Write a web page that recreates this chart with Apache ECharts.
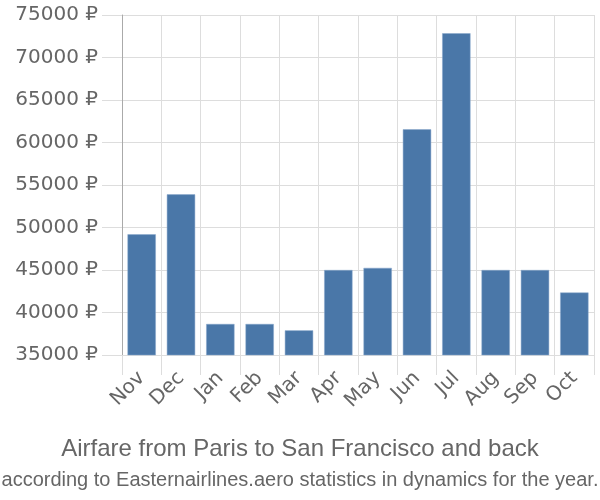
<!DOCTYPE html>
<html><head><meta charset="utf-8">
<script src="https://cdn.jsdelivr.net/npm/echarts@6/dist/echarts.min.js"></script>
<style>html,body{margin:0;padding:0;background:#fff}#c{width:600px;height:500px}</style>
</head><body><div id="c"></div>
<script>
const months = ['Nov','Dec','Jan','Feb','Mar','Apr','May','Jun','Jul','Aug','Sep','Oct'];
const prices = [49200, 53900, 38650, 38650, 37900, 45000, 45250, 61550, 72850, 45000, 45000, 42350];
const yMin = 35000, yMax = 75000, yStep = 5000;
const titleText = 'Airfare from Paris to San Francisco and back';
const subText = 'according to Easternairlines.aero statistics in dynamics for the year.';

const chart = echarts.init(document.getElementById('c'), null, {renderer:'canvas'});
const font = '"Liberation Sans", Arial, sans-serif';
const axisFont = '"DejaVu Sans", sans-serif';
chart.setOption({
  animation:false,
  title:[
    {text:titleText, left:'center', top:432, textStyle:{fontFamily:font, fontSize:24, fontWeight:'normal', color:'#666'}},
    {text:subText, left:'center', top:465, textStyle:{fontFamily:font, fontSize:20, fontWeight:'normal', color:'#666'}}
  ],
  grid:{left:122, right:6, top:15, bottom:145, containLabel:false},
  xAxis:{
    type:'category', data:months,
    axisLine:{show:true, lineStyle:{color:'#ddd', width:1}},
    axisTick:{show:true, length:20, lineStyle:{color:'#ddd'}},
    splitLine:{show:true, lineStyle:{color:'#ddd', width:1}},
    axisLabel:{rotate:45, fontFamily:axisFont, fontSize:20, color:'#666', margin:20, interval:0}
  },
  yAxis:{
    type:'value', min:yMin, max:yMax, interval:yStep,
    axisLine:{show:true, lineStyle:{color:'#aaa', width:1}},
    axisTick:{show:true, length:20, lineStyle:{color:'#ddd'}},
    splitLine:{show:true, lineStyle:{color:'#ddd', width:1}},
    axisLabel:{formatter:function(v){return v + ' ₽';}, fontFamily:axisFont, fontSize:20, color:'#666', margin:24}
  },
  series:[{
    type:'bar', data:prices, barCategoryGap:'28%',
    itemStyle:{color:'#4a77a8', borderColor:'#8aa8cc', borderWidth:0.5}
  }]
});
</script></body></html>
